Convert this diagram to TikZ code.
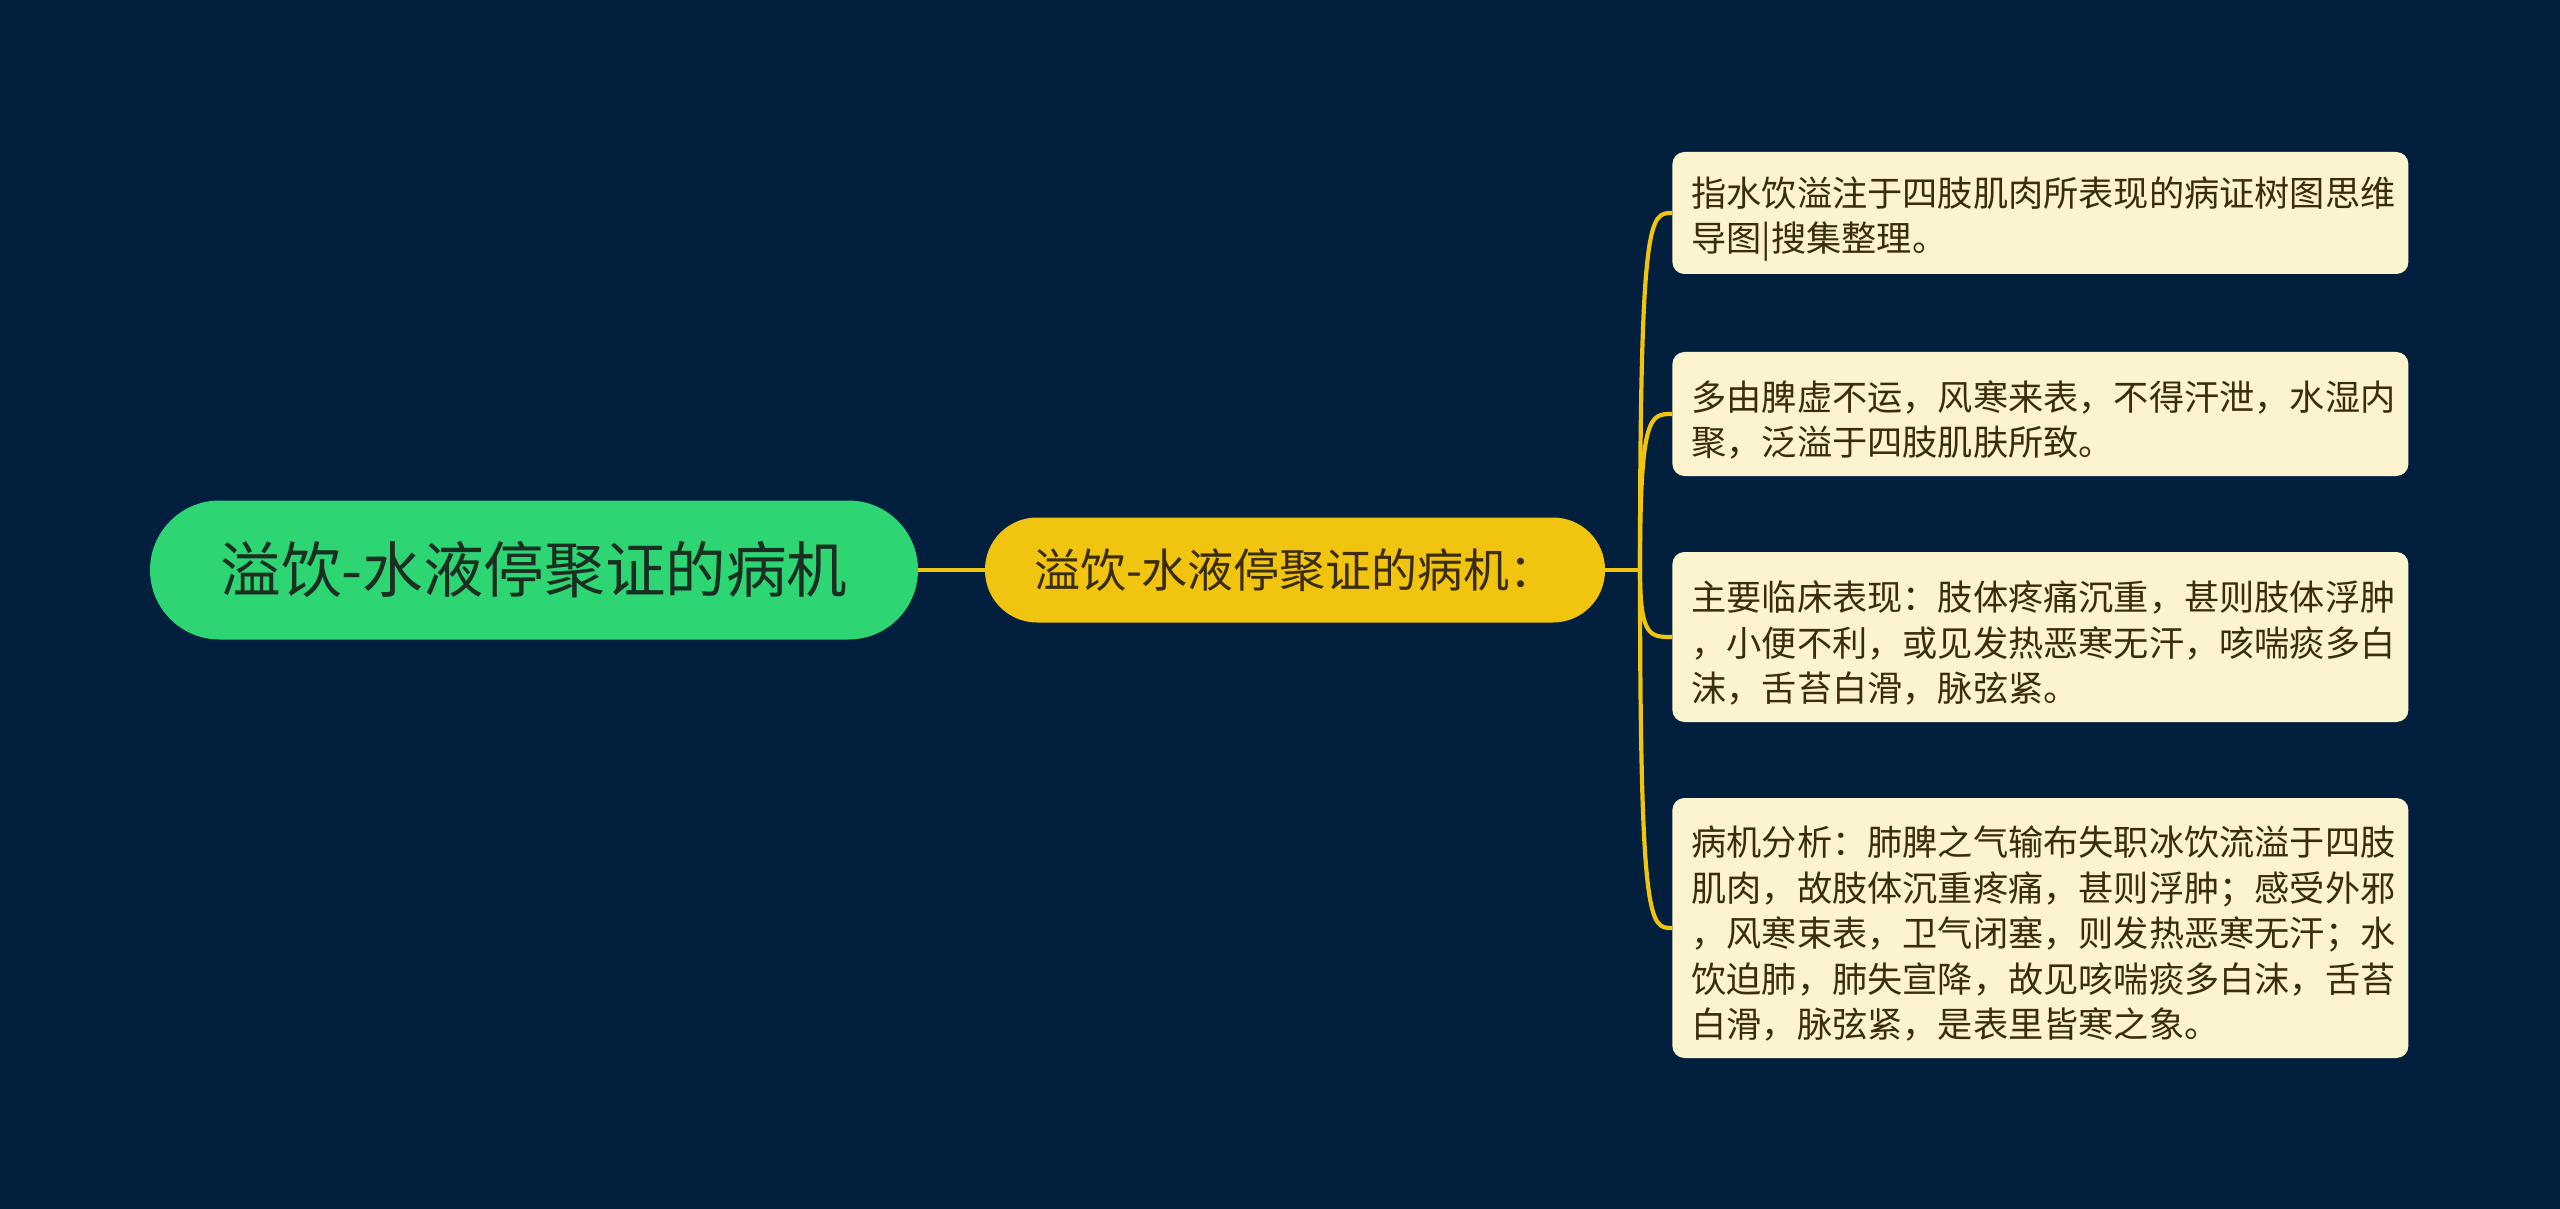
\documentclass[tikz,border=0pt]{standalone}
\usepackage{fontspec}
\setmainfont{Noto Sans CJK SC}
\usetikzlibrary{calc}
\definecolor{bgc}{HTML}{02203E}
\definecolor{rootc}{HTML}{2ED573}
\definecolor{subc}{HTML}{F1C40F}
\definecolor{leafc}{HTML}{FCF3CF}
\definecolor{leaftext}{HTML}{3A2C0C}
\definecolor{roottext}{HTML}{1B2E22}
\tikzset{
  rootnode/.style={fill=rootc, text=roottext, rounded corners=34.75pt, minimum width=384pt, minimum height=69.5pt, inner sep=0pt, font=\fontsize{30.3}{36}\selectfont},
  subnode/.style={fill=subc, text=leaftext, rounded corners=26pt, minimum width=310pt, minimum height=52.5pt, inner sep=0pt, font=\fontsize{23}{28}\selectfont},
  leafbox/.style={fill=leafc, rounded corners=6pt, anchor=west, minimum width=368pt, inner sep=0pt},
  leaftxt/.style={text=leaftext, text width=351pt, inner sep=0pt, align=left, font=\fontsize{17.6}{22.75}\selectfont, yshift=-3pt},
  link/.style={draw=subc, line width=2.1pt},
}
\begin{document}
\begin{tikzpicture}[x=1pt,y=1pt]
\fill[bgc] (0,0) rectangle (1280,-604.5);
\useasboundingbox (0,0) rectangle (1280,-604.5);

\node[rootnode] (root) at (267,-285) {溢饮-水液停聚证的病机};
\node[subnode] (sub) at (647.5,-285) {溢饮-水液停聚证的病机：};

\node[leafbox, minimum height=61pt] (b1) at (836,-106.5) {};
\node[leafbox, minimum height=62pt] (b2) at (836,-207) {};
\node[leafbox, minimum height=85pt] (b3) at (836,-318.5) {};
\node[leafbox, minimum height=130pt] (b4) at (836,-464) {};

\node[leaftxt] (t1) at ($(b1.center)+(1,0)$) {指水饮溢注于四肢肌肉所表现的病证树图思维\\导图|搜集整理。};
\node[leaftxt] (t2) at ($(b2.center)+(1,0)$) {多由脾虚不运，风寒来表，不得汗泄，水湿内\\聚，泛溢于四肢肌肤所致。};
\node[leaftxt] (t3) at ($(b3.center)+(1,0)$) {主要临床表现：肢体疼痛沉重，甚则肢体浮肿\\，小便不利，或见发热恶寒无汗，咳喘痰多白\\沫，舌苔白滑，脉弦紧。};
\node[leaftxt] (t4) at ($(b4.center)+(1,0)$) {病机分析：肺脾之气输布失职冰饮流溢于四肢\\肌肉，故肢体沉重疼痛，甚则浮肿；感受外邪\\，风寒束表，卫气闭塞，则发热恶寒无汗；水\\饮迫肺，肺失宣降，故见咳喘痰多白沫，舌苔\\白滑，脉弦紧，是表里皆寒之象。};

\coordinate (T) at (820,-285);
\draw[link] (root.east) -- (sub.west);
\draw[link] (sub.east) -- (T);
\foreach \b in {b1,b2,b3,b4}{
  \draw[link] (T) .. controls (T |- \b.west) and ($(T |- \b.west)+(5,0)$) .. (\b.west);
}
\end{tikzpicture}
\end{document}
